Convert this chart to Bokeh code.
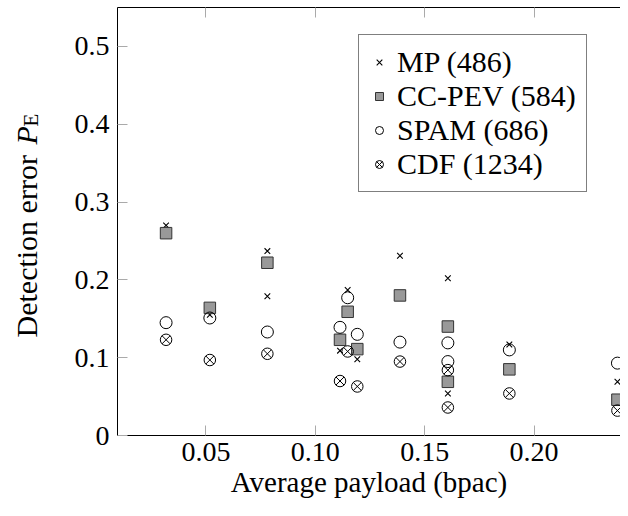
import math
from bokeh.plotting import figure
from bokeh.layouts import row
from bokeh.models import (Range1d, FixedTicker, LinearAxis, Legend, LegendItem, Label,
                          NumeralTickFormatter)
from bokeh.embed import file_html
from bokeh.resources import INLINE

# ---- data ----
mp_x = [0.0318, 0.0518, 0.0781, 0.0781, 0.1113, 0.1148, 0.1192, 0.1387, 0.1606, 0.1606, 0.1887, 0.2381]
mp_y = [0.270, 0.155, 0.237, 0.179, 0.109, 0.187, 0.098, 0.231, 0.202, 0.054, 0.117, 0.069]

pay_x = [0.0318, 0.0518, 0.0781, 0.1113, 0.1148, 0.1192, 0.1387, 0.1606, 0.1606, 0.1887, 0.2381]
ccpev_y = [0.260, 0.164, 0.222, 0.123, 0.159, 0.111, 0.180, 0.140, 0.069, 0.085, 0.046]
spam_y = [0.145, 0.151, 0.133, 0.139, 0.177, 0.130, 0.120, 0.119, 0.095, 0.110, 0.093]
cdf_y = [0.123, 0.097, 0.105, 0.070, 0.108, 0.063, 0.095, 0.084, 0.036, 0.054, 0.032]

series_names = ["MP (486)", "CC-PEV (584)", "SPAM (686)", "CDF (1234)"]
x_ticks = [0.05, 0.10, 0.15, 0.20]
y_ticks = [0, 0.1, 0.2, 0.3, 0.4, 0.5]
x_label = "Average payload (bpac)"
y_label_main = "Detection error"

FONT = "Liberation Serif"
H = 500
LAB_W = 60
MAIN_W = 620 - LAB_W

# ---- y-axis title panel (mixed styles: roman text, italic P, subscript E) ----
ylab = figure(width=LAB_W, height=H, output_backend="svg", toolbar_location=None,
              x_range=Range1d(0, 1), y_range=Range1d(0, 1),
              x_axis_location=None, y_axis_location=None,
              min_border=0, min_border_left=0, min_border_right=0,
              min_border_top=0, min_border_bottom=0)
ylab.outline_line_color = None
ylab.xgrid.visible = False
ylab.ygrid.visible = False
ylab.add_layout(Label(x=26, y=98, x_units="screen", y_units="screen", text=y_label_main,
                      angle=math.pi / 2, text_font=FONT, text_font_size="30px",
                      text_color="black", text_align="left", text_baseline="alphabetic"))
ylab.add_layout(Label(x=26, y=291, x_units="screen", y_units="screen", text="P",
                      angle=math.pi / 2, text_font=FONT, text_font_size="30px",
                      text_color="black", text_font_style="italic", text_align="left",
                      text_baseline="alphabetic"))
ylab.add_layout(Label(x=30, y=309, x_units="screen", y_units="screen", text="E",
                      angle=math.pi / 2, text_font=FONT, text_font_size="21px",
                      text_color="black", text_align="left", text_baseline="alphabetic"))

# ---- main plot ----
p = figure(width=MAIN_W, height=H, output_backend="svg", toolbar_location=None,
           x_range=Range1d(0.0096, 0.2395), y_range=Range1d(0, 0.55),
           min_border_left=117 - LAB_W, min_border_right=0, min_border_top=7,
           min_border_bottom=0)
p.outline_line_color = None
p.xgrid.visible = False
p.ygrid.visible = False
p.background_fill_color = "white"
p.border_fill_color = "white"

for ax in [p.xaxis[0], p.yaxis[0]]:
    ax.axis_line_color = "black"
    ax.axis_line_width = 1
    ax.major_tick_in = 10
    ax.major_tick_out = 0
    ax.minor_tick_line_color = None
    ax.major_tick_line_color = "#aaaaaa"
    ax.major_label_text_font = FONT
    ax.major_label_text_font_size = "28px"
    ax.major_label_text_color = "black"

p.xaxis.ticker = FixedTicker(ticks=x_ticks)
p.xaxis.formatter = NumeralTickFormatter(format="0.00")
p.yaxis.ticker = FixedTicker(ticks=y_ticks)
p.yaxis.major_label_overrides = {0: "0"}
p.xaxis.major_label_standoff = 7
p.yaxis.major_label_standoff = 8
p.xaxis.axis_label = x_label
p.xaxis.axis_label_text_font = FONT
p.xaxis.axis_label_text_font_size = "29px"
p.xaxis.axis_label_text_font_style = "normal"
p.xaxis.axis_label_text_color = "black"
p.xaxis.axis_label_standoff = 2

top = LinearAxis(ticker=FixedTicker(ticks=x_ticks), major_tick_in=10, major_tick_out=0,
                 minor_tick_line_color=None, major_tick_line_color="#aaaaaa",
                 axis_line_color="black", major_label_text_font_size="1px",
                 major_label_text_color=None, major_label_standoff=0)
p.add_layout(top, "above")

r_mp = p.scatter(mp_x, mp_y, marker="x", size=8, line_color="black", line_width=1.1)
r_cc = p.scatter(pay_x, ccpev_y, marker="square", size=11.5, fill_color="#999999",
                 line_color="#333333", line_width=1)
r_spam = p.scatter(pay_x, spam_y, marker="circle", size=12, fill_color=None,
                   line_color="black", line_width=1)
r_cdf = p.scatter(pay_x, cdf_y, marker="circle_x", size=11.5, fill_color=None,
                  line_color="black", line_width=1)

legend = Legend(items=[LegendItem(label=n, renderers=[r]) for n, r in
                       zip(series_names, [r_mp, r_cc, r_spam, r_cdf])],
                location=(241, 243), padding=10, spacing=0, margin=0,
                label_height=34, glyph_height=34, glyph_width=20, label_standoff=8,
                label_text_font=FONT, label_text_font_size="30px",
                label_text_color="black",
                border_line_color="black", border_line_width=1,
                background_fill_color="white", background_fill_alpha=1)
p.add_layout(legend, "center")

layout = row(ylab, p)
open("out.html", "w").write(file_html(layout, INLINE))
